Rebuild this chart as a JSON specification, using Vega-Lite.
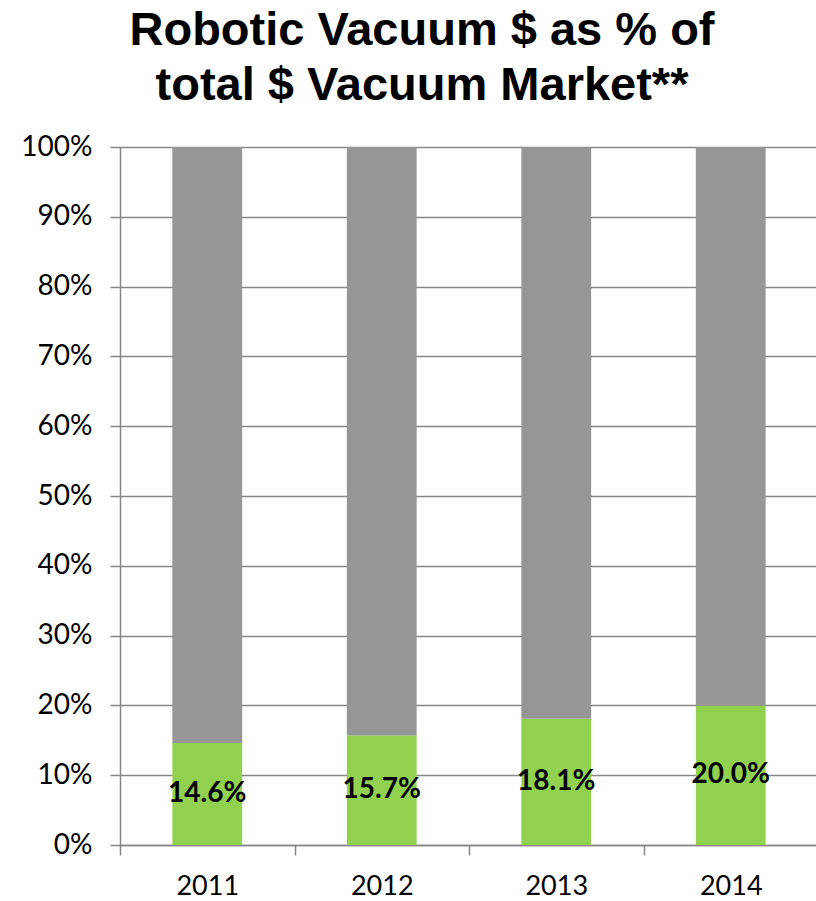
{
  "$schema": "https://vega.github.io/schema/vega-lite/v6.json",
  "width": 698,
  "height": 698,
  "autosize": "none",
  "padding": {"left": 120, "top": 147, "right": 0, "bottom": 56},
  "background": "white",
  "title": {
    "text": ["Robotic Vacuum $ as % of", "total $ Vacuum Market**"],
    "font": "Liberation Sans",
    "fontSize": 47,
    "fontWeight": "bold",
    "color": "black",
    "anchor": "middle",
    "dx": -47,
    "offset": 23,
    "lineHeight": 55
  },
  "config": {"view": {"stroke": null}},
  "data": {
    "values": [
      {"year": "2011", "series": "Robotic", "value": 0.146},
      {"year": "2012", "series": "Robotic", "value": 0.157},
      {"year": "2013", "series": "Robotic", "value": 0.181},
      {"year": "2014", "series": "Robotic", "value": 0.200},
      {"year": "2011", "series": "Other", "value": 0.854},
      {"year": "2012", "series": "Other", "value": 0.843},
      {"year": "2013", "series": "Other", "value": 0.819},
      {"year": "2014", "series": "Other", "value": 0.800}
    ]
  },
  "encoding": {
    "x": {
      "field": "year",
      "type": "nominal",
      "scale": {"paddingInner": 0.6, "paddingOuter": 0.3},
      "axis": {
        "title": null,
        "labelAngle": 0,
        "labelFont": "Lato",
        "labelFontSize": 27,
        "labelColor": "black",
        "labelPadding": 18,
        "domainColor": "#868686",
        "domainWidth": 1.5,
        "tickColor": "#868686",
        "tickWidth": 1.5,
        "tickSize": 10,
        "tickOffset": -87,
        "labelOffset": 87,
        "grid": false
      }
    }
  },
  "layer": [
    {
      "mark": {"type": "bar"},
      "encoding": {
        "y": {
          "field": "value",
          "type": "quantitative",
          "stack": "zero",
          "scale": {"domain": [0, 1], "nice": false},
          "axis": {
            "title": null,
            "values": [0, 0.1, 0.2, 0.3, 0.4, 0.5, 0.6, 0.7, 0.8, 0.9, 1],
            "format": ".0%",
            "labelFont": "Lato",
            "labelFontSize": 28,
            "labelColor": "black",
            "labelPadding": 18,
            "grid": true,
            "gridColor": "#868686",
            "gridWidth": 1.5,
            "domainColor": "#868686",
            "domainWidth": 1.5,
            "tickColor": "#868686",
            "tickWidth": 1.5,
            "tickSize": 10
          }
        },
        "color": {
          "field": "series",
          "type": "nominal",
          "sort": ["Robotic", "Other"],
          "scale": {"domain": ["Robotic", "Other"], "range": ["#92D050", "#969696"]},
          "legend": null
        }
      }
    },
    {
      "transform": [{"filter": "datum.series === 'Robotic'"}],
      "mark": {"type": "text", "font": "Lato", "fontSize": 28, "fontWeight": "bold", "color": "black", "baseline": "middle"},
      "encoding": {
        "y": {
          "field": "value",
          "type": "quantitative",
          "scale": {"domain": [0, 2], "nice": false},
          "axis": null
        },
        "text": {"field": "value", "type": "quantitative", "format": ".1%"}
      }
    }
  ],
  "resolve": {"scale": {"y": "independent"}}
}
